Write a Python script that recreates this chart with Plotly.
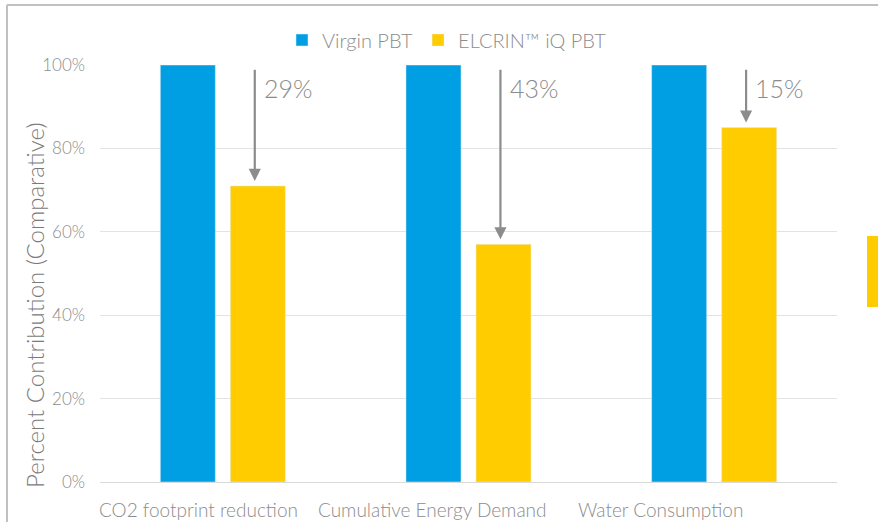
import plotly.graph_objects as go

categories = ["CO2 footprint reduction", "Cumulative Energy Demand", "Water Consumption"]
virgin = [100, 100, 100]
elcrin = [71, 57, 85]
reductions = ["29%", "43%", "15%"]

FONT = "Lato"
WT = 300
GRAY = "#8c8c8c"
W, H = 878, 522
L, R, T, B = 100, 41, 65, 40
pw, ph = W - L - R, H - T - B

def px(x):
    return (x - L) / pw

def py(y):
    return (H - B - y) / ph

fig = go.Figure()
fig.add_bar(x=categories, y=virgin, name="Virgin PBT", marker_color="#009FE3")
fig.add_bar(x=categories, y=elcrin, name="ELCRIN™ iQ PBT", marker_color="#FFCC00")

annotations = []
for i, (v, r) in enumerate(zip(elcrin, reductions)):
    annotations.append(dict(
        x=i + 0.13, y=v + 1.2, xref="x", yref="y",
        ax=i + 0.13, ay=99.2, axref="x", ayref="y",
        showarrow=True, arrowhead=2, arrowsize=1.1, arrowwidth=2.2,
        arrowcolor="#8c8c8c", text=""))
    annotations.append(dict(
        x=i + 0.16, y=94.6, xref="x", yref="y", showarrow=False,
        text=r, xanchor="left", yanchor="middle",
        font=dict(family=FONT, size=25, color=GRAY, weight=WT)))

label_x = [198, 432, 660]
for c, lx in zip(categories, label_x):
    annotations.append(dict(
        x=px(lx), y=py(509), xref="paper", yref="paper", showarrow=False,
        text=c, xanchor="center", yanchor="middle",
        font=dict(family=FONT, size=19, color=GRAY, weight=WT)))

annotations.append(dict(
    x=px(34), y=py(305), xref="paper", yref="paper", showarrow=False,
    xanchor="center", yanchor="middle",
    text="Percent Contribution (Comparative)", textangle=-90,
    font=dict(family=FONT, size=24, color="#7a7a7a", weight=WT)))

shapes = [
    dict(type="line", xref="paper", yref="paper", x0=px(7), x1=px(7), y0=py(5), y1=py(530),
         line=dict(color="#c0c0c0", width=2)),
    dict(type="line", xref="paper", yref="paper", x0=px(7), x1=px(890), y0=py(5), y1=py(5),
         line=dict(color="#c0c0c0", width=2)),
    dict(type="rect", xref="paper", yref="paper", x0=px(867), x1=px(890), y0=py(307), y1=py(236),
         fillcolor="#FFCC00", line=dict(width=0)),
]

fig.update_layout(
    width=W, height=H,
    margin=dict(l=L, r=R, t=T, b=B),
    paper_bgcolor="white", plot_bgcolor="white",
    barmode="group", bargap=0.43, bargroupgap=0.214,
    font=dict(family=FONT, color=GRAY, weight=WT),
    legend=dict(orientation="h", x=px(447), xanchor="center", y=py(40), yanchor="middle",
                font=dict(family=FONT, size=20, color=GRAY, weight=WT), itemwidth=30,
                traceorder="normal"),
    xaxis=dict(showgrid=False, showline=True, linecolor="#d9d9d9", linewidth=1,
               showticklabels=False, ticks=""),
    yaxis=dict(range=[0, 100], tickvals=[0, 20, 40, 60, 80, 100],
               ticktext=["0%", "20%", "40%", "60%", "80%", "100%"],
               showgrid=True, gridcolor="#e3e3e3", gridwidth=1, zeroline=False,
               tickfont=dict(family=FONT, size=17, color=GRAY, weight=WT), ticks="",
               ticklabelstandoff=14),
    annotations=annotations,
    shapes=shapes,
)

fig.write_html("out.html")
